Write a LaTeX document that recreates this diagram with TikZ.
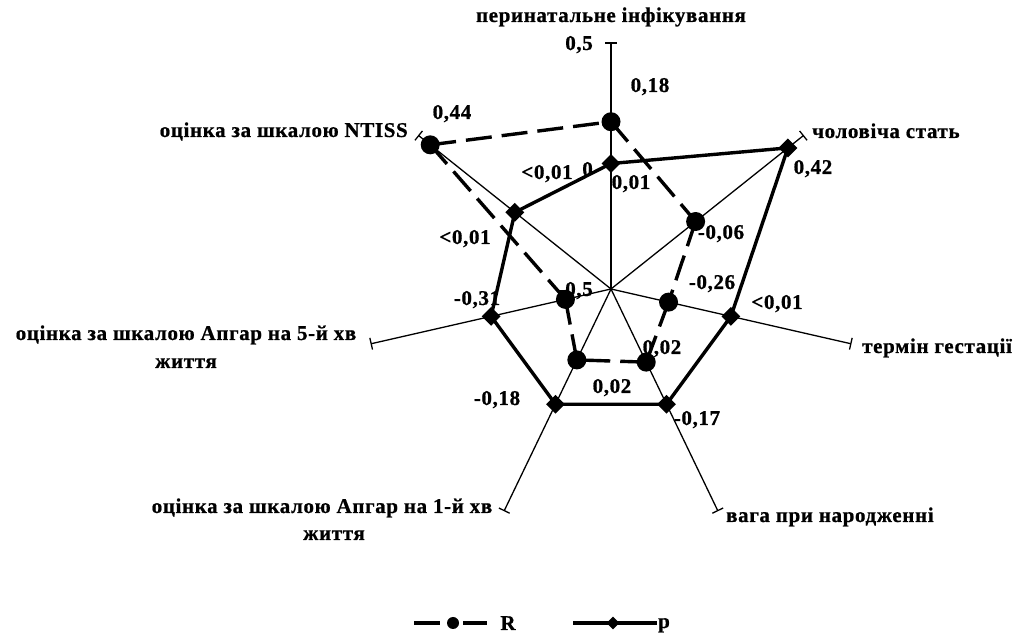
\documentclass[tikz,border=0pt]{standalone}
\usepackage{fontspec}
\setmainfont{Liberation Serif}[LetterSpace=3,BoldFeatures={FakeBold=0.8}]
\usetikzlibrary{calc,shapes.geometric}
\begin{document}
\begin{tikzpicture}[x=1pt,y=1pt,
  axisline/.style={line width=1.3pt},
  rser/.style={line width=3.4pt, dash pattern=on 26pt off 10pt},
  pser/.style={line width=3.4pt, line join=miter},
  rmark/.style={circle, fill=black, minimum size=19pt, inner sep=0pt},
  pmark/.style={diamond, fill=black, minimum size=19pt, inner sep=0pt},
  rmarksm/.style={circle, fill=black, minimum size=12pt, inner sep=0pt},
  pmarksm/.style={diamond, fill=black, minimum size=13pt, inner sep=0pt},
  lab/.style={font=\bfseries\fontsize{21}{25}\selectfont, inner sep=0pt, anchor=base},
  labe/.style={lab, anchor=base east},
  labw/.style={lab, anchor=base west},
]
\useasboundingbox (0,0) rectangle (1022,639);
\coordinate (C) at (611,350);
\def\Rad{246}
% axes
\foreach \k in {0,...,6}{
  \pgfmathsetmacro\ang{90-\k*360/7}
  \coordinate (e\k) at ($(C)+(\ang:\Rad)$);
  \draw[axisline] (C) -- (e\k);
  \draw[axisline] ($(e\k)+(\ang+90:6)$) -- ($(e\k)+(\ang-90:6)$);
}
% axis names
\node[lab] (n0) at (611,617) {перинатальне інфікування};
\node[labw] (n1) at (812,501) {чоловіча стать};
\node[labw] (n2) at (862,286) {термін гестації};
\node[labw] (n3) at (726,117) {вага при народженні};
\node[lab] (n4a) at (322,126) {оцінка за шкалою Апгар на 1-й хв};
\node[lab] (n4b) at (334,99) {життя};
\node[lab] (n5a) at (186,299) {оцінка за шкалою Апгар на 5-й хв};
\node[lab] (n5b) at (186,271) {життя};
\node[labe] (n6) at (408,502) {оцінка за шкалою NTISS};
% axis scale
\node[labe] (s1) at (593,589) {0,5};
\node[labe] (s2) at (593,463) {0};
\node[labe] (s3) at (593,343) {-0,5};
% data labels
\node[lab] (d1) at (650,547) {0,18};
\node[lab] (d2) at (631,450) {0,01};
\node[lab] (d3) at (547,460) {<0,01};
\node[lab] (d4) at (452,520) {0,44};
\node[lab] (d5) at (465,395) {<0,01};
\node[lab] (d6) at (477,334) {-0,31};
\node[lab] (d7) at (497,234) {-0,18};
\node[lab] (d8) at (612,246) {0,02};
\node[lab] (d9) at (662,285) {0,02};
\node[lab] (d10) at (697,214) {-0,17};
\node[lab] (d11) at (777,330) {<0,01};
\node[lab] (d12) at (712,350) {-0,26};
\node[lab] (d13) at (721,400) {-0,06};
\node[lab] (d14) at (813,465) {0,42};
% data points
\foreach \k/\rv/\pv in {0/0.18/0.01, 1/-0.06/0.42, 2/-0.26/0, 3/-0.17/0.02, 4/-0.18/0.02, 5/-0.31/0, 6/0.44/0}{
  \pgfmathsetmacro\ang{90-\k*360/7}
  \coordinate (r\k) at ($(C)+(\ang:{(\rv+0.5)*\Rad})$);
  \coordinate (p\k) at ($(C)+(\ang:{(\pv+0.5)*\Rad})$);
}
\foreach \a/\b in {0/1,1/2,2/3,3/4,4/5,5/6,6/0}{
  \draw[rser] (r\a) -- (r\b);
}
\draw[pser] (p0) -- (p1) -- (p2) -- (p3) -- (p4) -- (p5) -- (p6) -- cycle;
\foreach \k in {0,...,6}{
  \node[rmark] (rm\k) at (r\k) {};
  \node[pmark] (pm\k) at (p\k) {};
}
% legend
\coordinate (la) at (414,16);
\coordinate (lb) at (487,16);
\draw[line width=3.4pt, dash pattern=on 26pt off 23pt] (la) -- (lb);
\node[rmarksm] (lrm) at (453,16) {};
\node[lab] (lr) at (508,9) {R};
\coordinate (lc) at (573,16);
\coordinate (ld) at (657,16);
\draw[pser] (lc) -- (ld);
\node[pmarksm] (lpm) at (613,16) {};
\node[lab] (lp) at (664,11) {p};
\end{tikzpicture}
\end{document}
